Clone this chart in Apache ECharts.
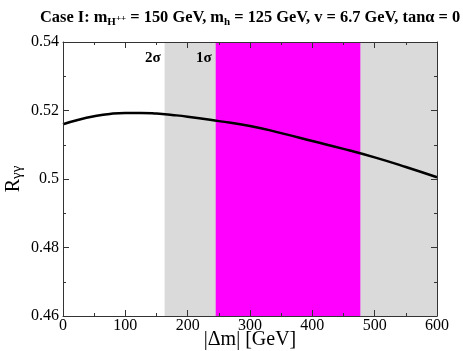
<!DOCTYPE html>
<html>
<head>
<meta charset="utf-8">
<script src="https://cdn.jsdelivr.net/npm/echarts@6/dist/echarts.min.js"></script>
<style>
  html, body { margin: 0; padding: 0; background: #fff; }
  #chart { width: 463px; height: 351px; }
</style>
</head>
<body>
<div id="chart"></div>
<script>
// |Δm| in GeV and the ratio R_γγ
const deltaM = [0, 25, 50, 75, 100, 125, 150, 175, 200, 250, 300, 350, 400, 450, 500, 550, 600];
const rGammaGamma = [0.5160, 0.5173, 0.5183, 0.5190, 0.5193, 0.5193, 0.5191, 0.5187, 0.5182,
  0.5169, 0.5155, 0.5134, 0.5111, 0.5088, 0.5063, 0.5035, 0.5005];

// allowed |Δm| bands
const band2Sigma = [163, 600];
const band1Sigma = [245, 477];

const xTicks = [0, 600, 100];
const yTicks = [0.46, 0.54, 0.02];

const serif = '"Liberation Serif", "Times New Roman", serif';
const axisColor = '#333';

const curve = deltaM.map((d, i) => [d, rGammaGamma[i]]);

const tickStyle = { inside: true, length: 6, lineStyle: { color: axisColor } };
const minorStyle = { show: true, splitNumber: 2, length: 3, lineStyle: { color: axisColor } };
const lineStyle = { show: true, onZero: false, lineStyle: { color: axisColor, width: 1 } };

const chart = echarts.init(document.getElementById('chart'));
chart.setOption({
  animation: false,
  title: {
    text: 'Case I: m{sub|H}{sup|++} = 150 GeV, m{sub|h} = 125 GeV, v = 6.7 GeV, tan\u03b1 = 0',
    left: 35,
    top: 3,
    textStyle: {
      fontFamily: serif, fontWeight: 'bold', fontSize: 16.4, color: '#000', lineHeight: 20,
      rich: {
        sub: { fontFamily: serif, fontWeight: 'bold', fontSize: 11, lineHeight: 8, verticalAlign: 'bottom', color: '#000' },
        sup: { fontFamily: serif, fontWeight: 'bold', fontSize: 9, lineHeight: 8, verticalAlign: 'bottom', padding: [0, 0, 5, 0], color: '#000' }
      }
    }
  },
  grid: { left: 63, right: 26, top: 42, bottom: 35, outerBoundsMode: 'none', containLabel: false },
  xAxis: [{
    type: 'value', position: 'bottom', min: xTicks[0], max: xTicks[1], interval: xTicks[2], z: 5,
    axisLine: lineStyle, axisTick: tickStyle, minorTick: minorStyle, splitLine: { show: false },
    axisLabel: { fontFamily: serif, fontSize: 16, color: '#000', margin: 2 },
    name: '|\u0394m| [GeV]', nameLocation: 'middle', nameGap: 14, nameMoveOverlap: false,
    nameTextStyle: { fontFamily: serif, fontSize: 20, color: '#000' }
  }, {
    type: 'value', position: 'top', min: xTicks[0], max: xTicks[1], interval: xTicks[2], z: 5,
    axisLine: lineStyle, axisTick: tickStyle, minorTick: minorStyle, splitLine: { show: false },
    axisLabel: { show: false }
  }],
  yAxis: [{
    type: 'value', position: 'left', min: yTicks[0], max: yTicks[1], interval: yTicks[2], z: 5,
    axisLine: lineStyle, axisTick: tickStyle, minorTick: minorStyle, splitLine: { show: false },
    axisLabel: { fontFamily: serif, fontSize: 16, color: '#000', margin: 4 },
    name: 'R{sub|\u03b3\u03b3}', nameLocation: 'middle', nameGap: 38, nameRotate: 90, nameMoveOverlap: false,
    nameTextStyle: {
      fontFamily: serif, fontSize: 20, color: '#000', lineHeight: 22,
      rich: { sub: { fontFamily: serif, fontSize: 15, lineHeight: 10, verticalAlign: 'bottom', color: '#000' } }
    }
  }, {
    type: 'value', position: 'right', min: yTicks[0], max: yTicks[1], interval: yTicks[2], z: 5,
    axisLine: lineStyle, axisTick: tickStyle, minorTick: minorStyle, splitLine: { show: false },
    axisLabel: { show: false }
  }],
  series: [{
    type: 'line',
    xAxisIndex: 0, yAxisIndex: 0,
    data: curve,
    smooth: true,
    showSymbol: false,
    lineStyle: { color: '#000', width: 2.5 },
    markArea: {
      silent: true,
      data: [
        [{ xAxis: band2Sigma[0], yAxis: yTicks[1], itemStyle: { color: '#dadada' },
           label: { show: true, formatter: '2\u03c3', position: [-4, 9], align: 'right',
             fontFamily: serif, fontWeight: 'bold', fontSize: 15, color: '#000' } },
         { xAxis: band2Sigma[1], yAxis: yTicks[0] }],
        [{ xAxis: band1Sigma[0], yAxis: yTicks[1], itemStyle: { color: '#ff00ff' },
           label: { show: true, formatter: '1\u03c3', position: [-4, 9], align: 'right',
             fontFamily: serif, fontWeight: 'bold', fontSize: 15, color: '#000' } },
         { xAxis: band1Sigma[1], yAxis: yTicks[0] }]
      ]
    }
  }]
});
</script>
</body>
</html>
